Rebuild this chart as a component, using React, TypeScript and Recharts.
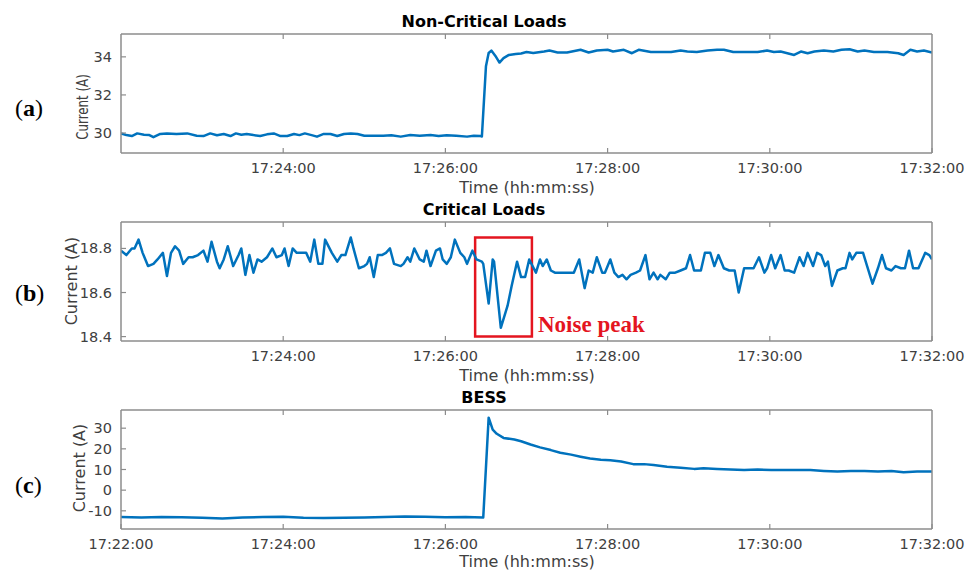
import React from 'react';
import { LineChart, Line, XAxis, YAxis, ReferenceArea } from 'recharts';

// time is seconds after 17:22:00
const nonCritTime = [
  0, 4, 8, 12, 17, 21, 24, 29, 34, 41, 49, 56, 61, 66, 71, 76, 81, 85, 89, 93,
  98, 103, 108, 113, 118, 123, 128, 132, 136, 141, 145, 150, 155, 160, 165, 170, 175, 180, 187, 194,
  200, 207, 214, 221, 229, 235, 241, 248, 256, 261, 266, 267, 270, 272, 274, 277, 280, 283, 287, 292,
  296, 300, 305, 313, 317, 323, 330, 340, 346, 352, 360, 364, 372, 378, 383, 392, 407, 414, 419, 426,
  434, 441, 446, 453, 461, 471, 478, 483, 488, 498, 503, 508, 513, 520, 527, 533, 539, 545, 550, 557,
  567, 575, 579, 584, 589, 594, 600,
];
const nonCritAmps = [
  29.98, 29.89, 29.84, 29.98, 29.91, 29.89, 29.78, 29.95, 29.98, 29.95, 29.98, 29.86, 29.84, 29.98, 29.88, 29.95, 29.84, 29.98, 29.91, 29.95,
  29.89, 29.84, 29.93, 29.98, 29.84, 29.84, 29.95, 29.89, 29.98, 29.89, 29.81, 29.95, 29.95, 29.84, 29.95, 29.98, 29.95, 29.86, 29.86, 29.86,
  29.88, 29.81, 29.89, 29.86, 29.89, 29.84, 29.88, 29.86, 29.81, 29.86, 29.84, 29.82, 33.5, 34.2, 34.33, 34.05, 33.7, 33.93, 34.1, 34.15,
  34.18, 34.25, 34.2, 34.28, 34.33, 34.23, 34.23, 34.37, 34.23, 34.33, 34.37, 34.28, 34.37, 34.19, 34.37, 34.25, 34.25, 34.33, 34.28, 34.25,
  34.33, 34.37, 34.37, 34.25, 34.25, 34.25, 34.33, 34.25, 34.28, 34.1, 34.28, 34.19, 34.28, 34.33, 34.28, 34.37, 34.4, 34.28, 34.33, 34.25,
  34.25, 34.19, 34.1, 34.37, 34.28, 34.33, 34.23,
];

const critTime = [
  0, 4, 8, 10, 13, 16, 20, 24, 27, 31, 34, 37, 40, 43, 46, 50, 53, 57, 61, 64,
  67, 71, 73, 76, 79, 83, 87, 89, 92, 95, 98, 101, 104, 108, 112, 115, 119, 121, 124, 127,
  130, 134, 137, 140, 143, 146, 149, 151, 156, 160, 163, 166, 170, 172, 176, 180, 182, 184, 187, 190,
  193, 196, 199, 202, 207, 209, 212, 214, 217, 221, 224, 226, 229, 233, 236, 238, 241, 244, 247, 251,
  254, 256, 260, 263, 267, 268, 272, 275, 276, 281, 286, 289, 293, 296, 299, 302, 307, 310, 312, 315,
  318, 321, 326, 331, 335, 339, 343, 346, 349, 352, 356, 358, 362, 365, 368, 371, 374, 377, 381, 384,
  388, 391, 394, 397, 399, 403, 406, 410, 414, 418, 421, 424, 429, 432, 436, 439, 442, 446, 450, 454,
  457, 461, 465, 468, 472, 476, 478, 481, 484, 488, 491, 494, 498, 502, 505, 508, 512, 515, 518, 521,
  523, 526, 530, 534, 536, 539, 541, 544, 549, 552, 556, 560, 563, 566, 570, 573, 577, 580, 583, 586,
  590, 595, 598, 600,
];
const critAmps = [
  18.79, 18.77, 18.8, 18.8, 18.84, 18.78, 18.72, 18.73, 18.75, 18.78, 18.675, 18.78, 18.81, 18.79, 18.73, 18.76, 18.76, 18.77, 18.79, 18.74,
  18.83, 18.74, 18.71, 18.75, 18.81, 18.72, 18.77, 18.8, 18.68, 18.77, 18.69, 18.75, 18.74, 18.76, 18.8, 18.76, 18.77, 18.8, 18.72, 18.8,
  18.78, 18.78, 18.78, 18.74, 18.84, 18.73, 18.73, 18.84, 18.78, 18.74, 18.77, 18.77, 18.85, 18.8, 18.71, 18.72, 18.73, 18.76, 18.67, 18.77,
  18.77, 18.78, 18.8, 18.73, 18.72, 18.73, 18.76, 18.74, 18.8, 18.75, 18.74, 18.79, 18.72, 18.79, 18.8, 18.75, 18.73, 18.76, 18.84, 18.78,
  18.76, 18.73, 18.79, 18.75, 18.74, 18.73, 18.55, 18.75, 18.74, 18.44, 18.54, 18.63, 18.74, 18.67, 18.67, 18.75, 18.69, 18.75, 18.72, 18.75,
  18.7, 18.69, 18.69, 18.69, 18.69, 18.75, 18.62, 18.7, 18.69, 18.76, 18.69, 18.69, 18.75, 18.69, 18.67, 18.68, 18.66, 18.68, 18.69, 18.7,
  18.77, 18.66, 18.69, 18.66, 18.68, 18.66, 18.69, 18.69, 18.7, 18.71, 18.77, 18.7, 18.7, 18.78, 18.78, 18.72, 18.77, 18.71, 18.7, 18.7,
  18.6, 18.71, 18.71, 18.71, 18.76, 18.69, 18.71, 18.77, 18.71, 18.77, 18.7, 18.7, 18.69, 18.76, 18.72, 18.78, 18.72, 18.78, 18.77, 18.72,
  18.74, 18.63, 18.7, 18.71, 18.71, 18.78, 18.75, 18.78, 18.78, 18.72, 18.64, 18.71, 18.77, 18.71, 18.7, 18.72, 18.71, 18.71, 18.79, 18.71,
  18.71, 18.78, 18.77, 18.75,
];

const bessTime = [
  0, 15, 30, 45, 60, 75, 90, 105, 120, 135, 150, 165, 180, 195, 210, 225, 240, 255, 268, 272,
  275, 278, 283, 291, 296, 303, 310, 318, 325, 333, 340, 347, 355, 362, 370, 379, 387, 394, 404, 414,
  424, 431, 441, 451, 461, 471, 481, 491, 500, 510, 520, 530, 540, 550, 560, 570, 579, 589, 600,
];
const bessAmps = [
  -13.0, -13.2, -13.0, -13.1, -13.3, -13.7, -13.2, -13.0, -12.9, -13.4, -13.5, -13.3, -13.2, -13.0, -12.8, -12.9, -13.1, -13.0, -13.2, 35.1,
  29.3, 27.3, 25.3, 24.5, 23.7, 22.1, 20.7, 19.4, 18.1, 17.2, 16.2, 15.3, 14.7, 14.5, 13.9, 12.6, 12.6, 12.2, 11.3, 10.9,
  10.3, 10.6, 10.3, 10.0, 9.8, 10.0, 9.7, 9.7, 9.7, 9.7, 9.3, 9.0, 9.3, 9.3, 9.0, 9.3, 8.7, 9.0, 9.0,
];

const timeTicks = [0, 120, 240, 360, 480, 600];
const timeTicksNoStart = [120, 240, 360, 480, 600];
const nonCritTicks = [30, 32, 34];
const critTicks = [18.4, 18.6, 18.8];
const bessTicks = [-10, 0, 10, 20, 30];

// noise peak box (time s, current A)
const noiseBox = { t1: 262, t2: 304, a1: 18.4, a2: 18.85 };

const AXIS = '#8c8c8c';
const INK = '#404040';
const SANS = '"DejaVu Sans", sans-serif';
const SERIF = '"Liberation Serif", serif';
const RED = '#e4151f';

const toRows = (t: number[], v: number[]) => t.map((s, i) => ({ t: s, v: v[i] }));

const clock = (s: number) => {
  const total = 17 * 3600 + 22 * 60 + s;
  const h = Math.floor(total / 3600);
  const m = Math.floor((total % 3600) / 60);
  const sec = total % 60;
  return `${h}:${String(m).padStart(2, '0')}:${String(sec).padStart(2, '0')}`;
};

const BottomTick = (p: any) => (
  <g>
    <line x1={p.x} y1={p.y} x2={p.x} y2={p.y - 5} stroke={AXIS} strokeWidth={1.2} />
    <text x={p.x} y={p.y + 20} textAnchor="middle" fill={INK} fontSize={14.5} fontFamily={SANS}>
      {clock(p.payload.value)}
    </text>
  </g>
);

const TopTick = (p: any) => <line x1={p.x} y1={p.y} x2={p.x} y2={p.y + 5} stroke={AXIS} strokeWidth={1.2} />;

const RightTick = (p: any) => <line x1={p.x} y1={p.y} x2={p.x - 5} y2={p.y} stroke={AXIS} strokeWidth={1.2} />;

const leftTick = (digits: number) => (p: any) => (
  <g>
    <line x1={p.x} y1={p.y} x2={p.x + 5} y2={p.y} stroke={AXIS} strokeWidth={1.2} />
    <text x={p.x - 9} y={p.y + 5} textAnchor="end" fill={INK} fontSize={14.5} fontFamily={SANS}>
      {p.payload.value.toFixed(digits)}
    </text>
  </g>
);

interface PanelProps {
  rows: { t: number; v: number }[];
  yDomain: [number, number];
  yTicks: number[];
  xTicks: number[];
  digits: number;
  children?: React.ReactNode;
}

function Panel({ rows, yDomain, yTicks, xTicks, digits, children }: PanelProps) {
  const axisLine = { stroke: AXIS, strokeWidth: 1.5 };
  return (
    <LineChart width={972} height={190} data={rows} margin={{ top: 33, right: 39, bottom: 0, left: 0 }}>
      <XAxis dataKey="t" type="number" domain={[0, 600]} ticks={xTicks} interval={0} height={37}
        tickSize={0} tickMargin={0} tickLine={false} axisLine={axisLine} tick={BottomTick} allowDataOverflow />
      <XAxis xAxisId="top" orientation="top" dataKey="t" type="number" domain={[0, 600]}
        ticks={xTicks.filter(t => t > 0 && t < 600)} interval={0} height={1}
        tickSize={0} tickMargin={0} tickLine={false} axisLine={axisLine} tick={TopTick} />
      <YAxis type="number" domain={yDomain} ticks={yTicks} interval={0} width={121}
        tickSize={0} tickMargin={0} tickLine={false} axisLine={axisLine} tick={leftTick(digits)} allowDataOverflow />
      <YAxis yAxisId="right" orientation="right" type="number" domain={yDomain} ticks={yTicks} interval={0} width={1}
        tickSize={0} tickMargin={0} tickLine={false} axisLine={axisLine} tick={RightTick} />
      <Line dataKey="v" type="linear" stroke="#0072BD" strokeWidth={2.5} dot={false}
        strokeLinejoin="round" isAnimationActive={false} />
      {children}
    </LineChart>
  );
}

export default function App() {
  return (
    <div style={{ position: 'absolute', left: 0, top: 0, width: 972, height: 570, background: '#fff', overflow: 'hidden' }}>
      <div style={{ position: 'absolute', left: 0, top: 0 }}>
        <Panel rows={toRows(nonCritTime, nonCritAmps)} yDomain={[28.95, 35.2]} yTicks={nonCritTicks}
          xTicks={timeTicksNoStart} digits={0} />
      </div>
      <div style={{ position: 'absolute', left: 0, top: 188 }}>
        <Panel rows={toRows(critTime, critAmps)} yDomain={[18.38, 18.92]} yTicks={critTicks}
          xTicks={timeTicksNoStart} digits={1}>
          <ReferenceArea x1={noiseBox.t1} x2={noiseBox.t2} y1={noiseBox.a1} y2={noiseBox.a2}
            fill="none" fillOpacity={0} stroke={RED} strokeWidth={2.5} ifOverflow="visible" />
        </Panel>
      </div>
      <div style={{ position: 'absolute', left: 0, top: 376 }}>
        <Panel rows={toRows(bessTime, bessAmps)} yDomain={[-18.8, 38.8]} yTicks={bessTicks}
          xTicks={timeTicks} digits={0} />
      </div>

      <svg width={972} height={570} style={{ position: 'absolute', left: 0, top: 0, pointerEvents: 'none' }}>
        <g fontFamily={SANS} fontWeight="bold" fontSize={16} fill="#000" textAnchor="middle">
          <text x={484} y={27}>Non-Critical Loads</text>
          <text x={484} y={215}>Critical Loads</text>
          <text x={484} y={403}>BESS</text>
        </g>
        <g fontFamily={SANS} fontSize={16} fill={INK} textAnchor="middle">
          <text x={527} y={193}>Time (hh:mm:ss)</text>
          <text x={527} y={381}>Time (hh:mm:ss)</text>
          <text x={527} y={567}>Time (hh:mm:ss)</text>
          <text transform="translate(88,107) rotate(-90) scale(0.74,1)">Current (A)</text>
          <text transform="translate(77,281) rotate(-90)">Current (A)</text>
          <text transform="translate(85,468) rotate(-90)">Current (A)</text>
        </g>
        <g fontFamily={SERIF} fontSize={24} fill="#000">
          <text x={15} y={116}>(<tspan fontWeight="bold">a</tspan>)</text>
          <text x={15} y={301}>(<tspan fontWeight="bold">b</tspan>)</text>
          <text x={15} y={493}>(<tspan fontWeight="bold">c</tspan>)</text>
        </g>
        <text x={538} y={332} fontFamily={SERIF} fontWeight="bold" fontSize={23} fill={RED}>Noise peak</text>
      </svg>
    </div>
  );
}
